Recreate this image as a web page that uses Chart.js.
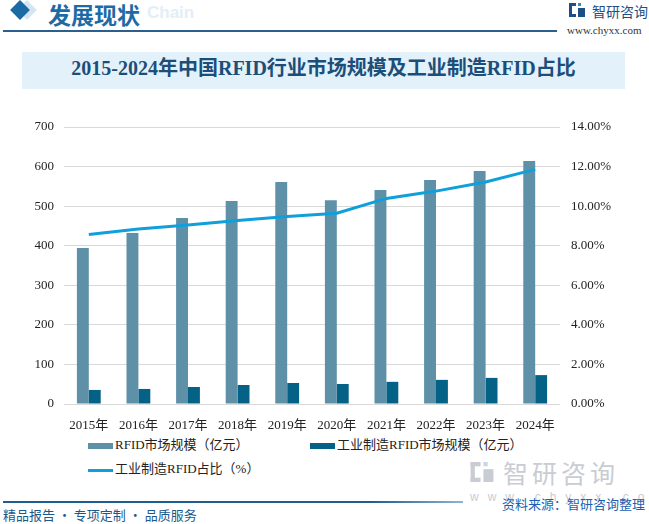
<!DOCTYPE html>
<html><head><meta charset="utf-8">
<script src="https://cdn.jsdelivr.net/npm/chart.js@4/dist/chart.umd.min.js"></script>
<style>
html,body{margin:0;padding:0;background:#fff;}
body{width:649px;height:524px;position:relative;overflow:hidden;font-family:"Liberation Serif","Noto Sans CJK SC",serif;}
.abs{position:absolute;white-space:nowrap;}
#diamond{left:13px;top:3px;width:14px;height:14px;background:#1a6aa6;transform:rotate(45deg);}
#diamond2{left:20px;top:3px;width:14px;height:14px;background:#d5e6f2;transform:rotate(45deg);}
#head{left:48px;top:-3px;font:bold 23px "Noto Sans CJK SC",sans-serif;color:#1e6aa4;}
#chainwm{left:147px;top:3px;font:bold 17px "Liberation Sans",sans-serif;color:#e3eef7;}
#hline{left:3px;top:30px;width:554px;height:2px;background:#2a5f8e;}
#logoicon{left:569px;top:3px;width:16px;height:14px;}
#logotxt{left:592px;top:1px;font:14px "Noto Sans CJK SC",sans-serif;color:#1c4f86;}
#url{left:567px;top:24px;font:11px "Liberation Serif",serif;color:#333;}
#titlebox{left:22px;top:52px;width:603px;height:37px;background:#e3f1fb;}
#title{left:22px;top:52px;width:603px;height:37px;line-height:37px;text-align:center;font:bold 20px "Liberation Serif","Noto Sans CJK SC",serif;color:#1b4e79;}
#chartwrap{left:0;top:100px;width:649px;height:334px;}
.leg{position:absolute;font:13px "Liberation Serif","Noto Sans CJK SC",serif;color:#222;white-space:nowrap;height:18px;line-height:18px;}
.sw{display:inline-block;width:25px;vertical-align:middle;margin-right:2px;}
#fline{left:3px;top:501px;width:460px;height:2px;background:linear-gradient(to right,#1d5e91,#1d5e91 80%,#8fb3cf);}
#src{left:502px;top:494px;font:13px "Noto Sans CJK SC",sans-serif;color:#1a5fb0;}
#wmicon{left:470px;top:462px;width:24px;height:20px;}
#wmlogo{left:503px;top:454px;font:25px "Noto Sans CJK SC",sans-serif;color:#c9ccd3;letter-spacing:4px;}
#wmurl{left:470px;top:490px;font:12px "Liberation Sans",sans-serif;color:#c9ccd3;letter-spacing:9px;}
#slogan{left:3px;top:505px;font:13px "Noto Sans CJK SC",sans-serif;color:#1a5a8a;}
</style></head>
<body>
<div class="abs" id="diamond2"></div>
<div class="abs" id="diamond"></div>
<div class="abs" id="chainwm">Chain</div>
<div class="abs" id="head">发展现状</div>
<div class="abs" id="hline"></div>
<svg class="abs" id="logoicon" viewBox="0 0 16 14"><rect x="0" y="0" width="7" height="3" fill="#1c4f86"/><rect x="0" y="0" width="3" height="14" fill="#1c4f86"/><rect x="0" y="11" width="7" height="3" fill="#1c4f86"/><rect x="9" y="0" width="3" height="3" fill="#2a8fd0"/><rect x="9" y="5" width="7" height="9" fill="#1c4f86"/></svg>
<div class="abs" id="logotxt">智研咨询</div>
<div class="abs" id="url">www.chyxx.com</div>
<div class="abs" id="titlebox"></div>
<div class="abs" id="title">2015-2024年中国RFID行业市场规模及工业制造RFID占比</div>
<div class="abs" id="chartwrap"><canvas id="c" width="649" height="334"></canvas></div>
<div id="legend"></div>
<svg class="abs" id="wmicon" viewBox="0 0 16 14"><rect x="0" y="0" width="7" height="3" fill="#c9ccd3"/><rect x="0" y="0" width="3" height="14" fill="#c9ccd3"/><rect x="0" y="11" width="7" height="3" fill="#c9ccd3"/><rect x="9" y="0" width="3" height="3" fill="#c9d6e6"/><rect x="9" y="5" width="7" height="9" fill="#c9ccd3"/></svg>
<div class="abs" id="wmlogo">智研咨询</div>
<div class="abs" id="wmurl">www.chyxx.com</div>
<div class="abs" id="fline"></div>
<div class="abs" id="src">资料来源：智研咨询整理</div>
<div class="abs" id="slogan">精品报告 · 专项定制 · 品质服务</div>
<script>
const categories = ["2015年","2016年","2017年","2018年","2019年","2020年","2021年","2022年","2023年","2024年"];
const rfidMarket = [394, 432, 470, 513, 561, 515, 541, 566, 589, 614];
const industrialRfid = [35.5, 38, 43, 48, 53, 50.5, 56, 61, 66, 73];
const industrialShare = [8.57, 8.84, 9.05, 9.28, 9.48, 9.64, 10.39, 10.76, 11.22, 11.86];
const seriesNames = ["RFID市场规模（亿元）","工业制造RFID市场规模（亿元）","工业制造RFID占比（%）"];
const colors = ["#5e90a8","#036285","#0fa0dc"];

const tickFont = {family:'"Liberation Serif","Noto Sans CJK SC",serif', size:13};
const chart = new Chart(document.getElementById('c'), {
  type:'bar',
  data:{
    labels:categories,
    datasets:[
      {type:'bar',label:seriesNames[0],data:rfidMarket,backgroundColor:colors[0],yAxisID:'y',order:2,barPercentage:1,categoryPercentage:0.48},
      {type:'bar',label:seriesNames[1],data:industrialRfid,backgroundColor:colors[1],yAxisID:'y',order:2,barPercentage:1,categoryPercentage:0.48},
      {type:'line',label:seriesNames[2],data:industrialShare,borderColor:colors[2],backgroundColor:colors[2],borderWidth:3,pointRadius:0,tension:0,yAxisID:'y1',order:0}
    ]
  },
  options:{
    responsive:false,animation:false,
    layout:{padding:{top:27,bottom:0,left:0,right:0}},
    plugins:{legend:{display:false},tooltip:{enabled:false}},
    scales:{
      x:{grid:{display:false},border:{display:false},ticks:{font:tickFont,color:'#222',padding:6,maxRotation:0},
         afterFit(s){s.height=30;}},
      y:{position:'left',min:0,max:700,ticks:{stepSize:100,font:tickFont,color:'#222',padding:10},
         grid:{color:'#d9d9d9',lineWidth:1,drawTicks:false},border:{display:false},
         afterFit(s){s.width=64;}},
      y1:{position:'right',min:0,max:14,ticks:{stepSize:2,font:tickFont,color:'#222',padding:11,callback:v=>v.toFixed(2)+'%'},
         grid:{display:false,drawTicks:false},border:{display:false},
         afterFit(s){s.width=89;}}
    }
  }
});

// HTML legend built from the chart datasets
const legendPos = [[88,436],[310,436],[88,460]];
const lg = document.getElementById('legend');
chart.data.datasets.forEach((ds,i)=>{
  const d = document.createElement('div');
  d.className='leg';
  d.style.left=legendPos[i][0]+'px';
  d.style.top=legendPos[i][1]+'px';
  const sw=document.createElement('span');
  sw.className='sw';
  sw.style.height=(ds.type==='line'?3:6)+'px';
  sw.style.background=ds.type==='line'?ds.borderColor:ds.backgroundColor;
  d.appendChild(sw);
  d.appendChild(document.createTextNode(ds.label));
  lg.appendChild(d);
});
</script>
</body></html>
